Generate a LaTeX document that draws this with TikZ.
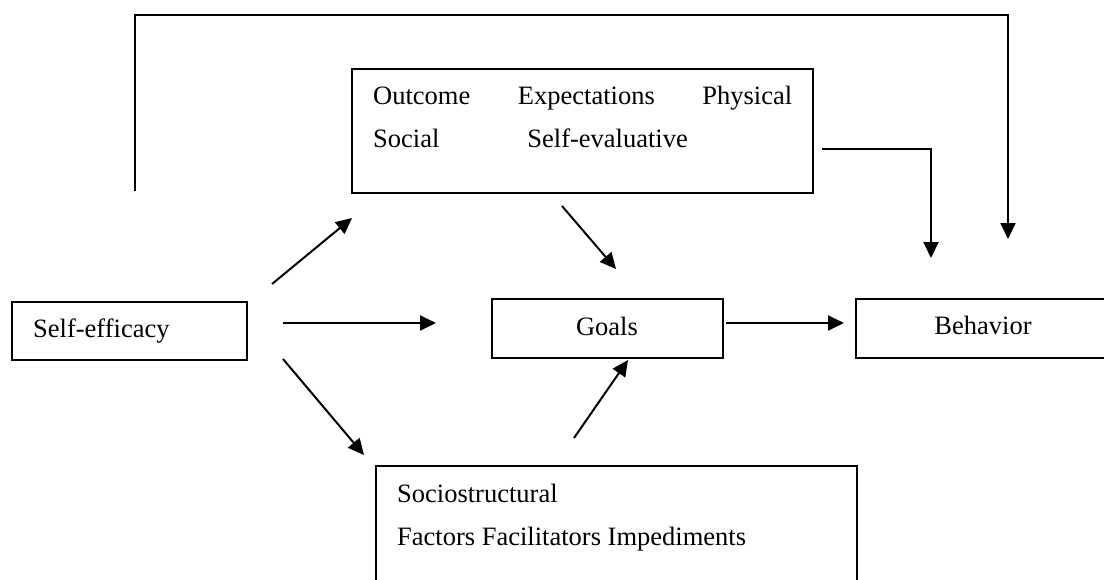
\documentclass[tikz,border=0pt]{standalone}
\usepackage{fontspec}
\setmainfont{Liberation Serif}
\usetikzlibrary{arrows.meta}
\tikzset{
  box/.style={draw, line width=1.6pt, inner sep=0pt},
  txt/.style={font=\fontsize{26.5}{43}\selectfont, inner sep=0pt, anchor=base west},
  arr/.style={line width=2pt, -{Triangle[length=16pt,width=15pt]}}
}
\begin{document}
\begin{tikzpicture}[x=1pt,y=-1pt]
\useasboundingbox (0,0) rectangle (1104,579);
\clip (0,0) rectangle (1104,579);
\fill[white] (0,0) rectangle (1104,579);

% boxes
\node[box, minimum width=235pt, minimum height=58pt] (se) at (129.5,331) {};
\node[box, minimum width=461pt, minimum height=124pt] (oe) at (582.5,131) {};
\node[box, minimum width=231pt, minimum height=59pt] (goals) at (607.5,328.5) {};
\node[box, minimum width=264pt, minimum height=59pt] (beh) at (988,328.5) {};
\node[box, minimum width=481pt, minimum height=134pt] (soc) at (616.5,533) {};

% texts
\node[txt] (tse) at (33,337) {Self-efficacy};
\node[txt, anchor=base] (tgoals) at (607,335) {Goals};
\node[txt, anchor=base] (tbeh) at (983,334) {Behavior};
\node[txt] (toe1) at (373,104) {\hbox to 419pt{Outcome\hfil Expectations\hfil Physical}};
\node[txt] (toe2) at (373,147) {Social\hspace{88pt}Self-evaluative};
\node[txt] (tsoc1) at (397,502) {Sociostructural};
\node[txt] (tsoc2) at (397,545) {Factors Facilitators Impediments};

% connector end points
\coordinate (a1s) at (272,284); \coordinate (a1e) at (352,218);
\coordinate (a2s) at (283,323); \coordinate (a2e) at (436,323);
\coordinate (a3s) at (283,359); \coordinate (a3e) at (364,455);
\coordinate (a4s) at (562,206); \coordinate (a4e) at (616,269);
\coordinate (a5s) at (574,438); \coordinate (a5e) at (628,360);
\coordinate (a6s) at (726,323); \coordinate (a6e) at (844,323);
\coordinate (a7s) at (822,149); \coordinate (a7e) at (931,258);
\coordinate (fbs) at (135,191); \coordinate (fbc) at (135,15); \coordinate (fbe) at (1008,239);

% connectors
\draw[arr] (a1s) -- (a1e);
\draw[arr] (a2s) -- (a2e);
\draw[arr] (a3s) -- (a3e);
\draw[arr] (a4s) -- (a4e);
\draw[arr] (a5s) -- (a5e);
\draw[arr] (a6s) -- (a6e);
\draw[arr] (a7s) -| (a7e);
\draw[arr] (fbs) -- (fbc) -| (fbe);
\end{tikzpicture}
\end{document}
